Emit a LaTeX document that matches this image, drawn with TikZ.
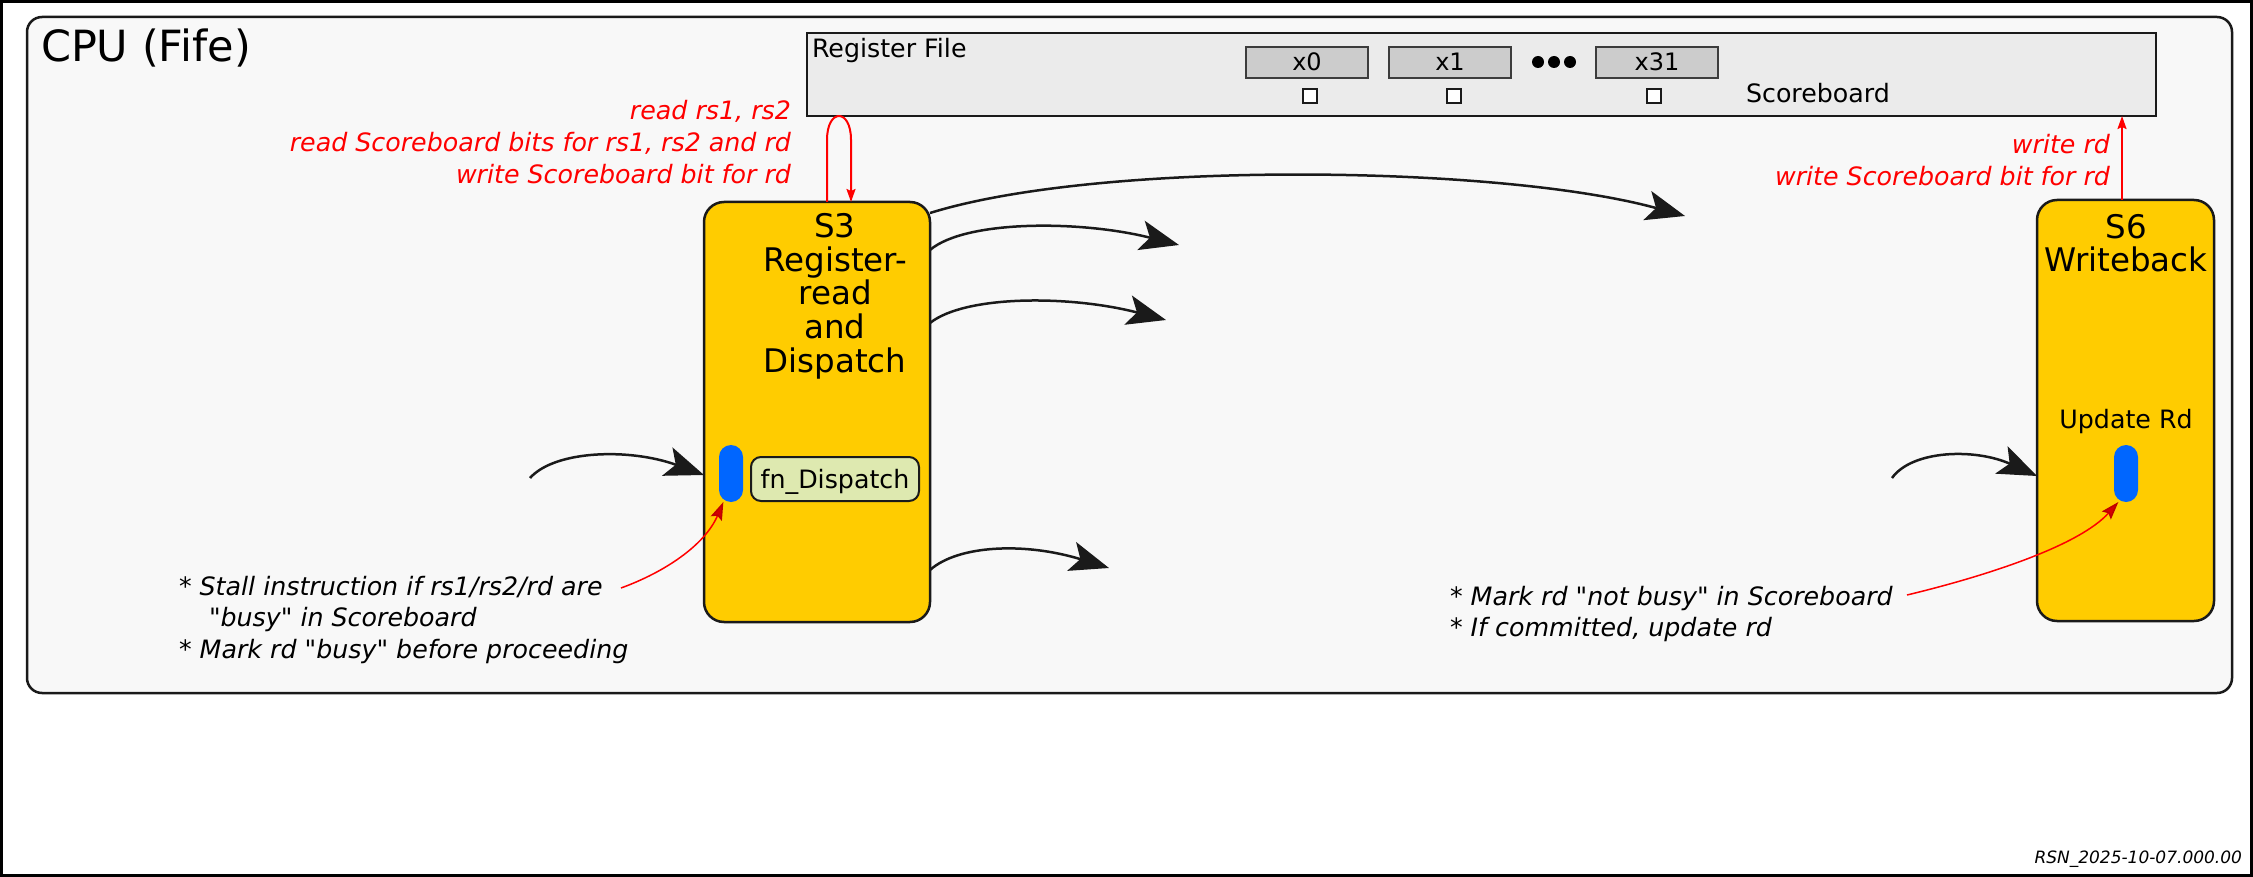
\documentclass[tikz,border=0pt]{standalone}
\usepackage{fontspec}
\setmainfont{DejaVu Sans}
\newfontfamily\djv{DejaVu Sans}
\usetikzlibrary{arrows.meta}
\definecolor{cpubg}{HTML}{F8F8F8}
\definecolor{rfbg}{HTML}{EBEBEB}
\definecolor{regbg}{HTML}{CCCCCC}
\definecolor{stagey}{HTML}{FFCC00}
\definecolor{pillb}{HTML}{0066FF}
\definecolor{fnbg}{HTML}{DEE9B0}
\definecolor{ink}{HTML}{1A1A1A}
\definecolor{redhead}{HTML}{D40000}
\definecolor{redline}{HTML}{FF0000}
\begin{document}
\begin{tikzpicture}[x=1pt,y=-1pt,
  every node/.style={inner sep=0pt,outer sep=0pt},
  txt/.style={font=\djv\fontsize{25.3}{30}\selectfont},
  regtxt/.style={font=\djv\fontsize{24}{28}\selectfont},
  ntxt/.style={font=\djv\itshape\fontsize{25.3}{30}\selectfont},
  rtxt/.style={font=\djv\itshape\fontsize{25.3}{30}\selectfont, text=redline},
  ttl/.style={font=\djv\fontsize{32.5}{36}\selectfont},
  cpubox/.style={draw=ink, line width=2.5pt, fill=cpubg, rounded corners=15pt},
  rfbox/.style={draw=ink, line width=2.5pt, fill=rfbg},
  regbox/.style={draw=ink!85, line width=2pt, fill=regbg, minimum width=122pt, minimum height=31pt,
    text height=17pt, text depth=0pt, regtxt},
  sbsq/.style={draw=ink, line width=2pt, fill=white, minimum width=14pt, minimum height=14pt},
  bdot/.style={circle, fill=black, minimum size=12pt},
  stagebox/.style={draw=ink, line width=2.5pt, fill=stagey, rounded corners=20pt},
  pill/.style={fill=pillb, rounded corners=12pt, minimum width=24pt, minimum height=57pt},
  fnbox/.style={draw=ink, line width=2pt, fill=fnbg, rounded corners=10pt, minimum width=168pt,
    minimum height=44pt, text height=18pt, text depth=0pt, txt},
  flow/.style={draw=ink, line width=2.5pt, -{Stealth[length=39pt,width=30pt,inset=9pt]}},
  rflow/.style={draw=redline, line width=2pt, -{Stealth[length=13pt,width=9pt,inset=2pt]}},
  note/.style={draw=redline, line width=1.5pt, -{Stealth[length=18pt,width=12pt,inset=3pt,fill=redhead,color=red!75!black]}}
]
\useasboundingbox (0,0) rectangle (2253,877);
\fill[white] (0,0) rectangle (2253,877);
\draw[line width=3pt, black] (1.5,1.5) rectangle (2251.5,875.5);

% CPU container
\node[cpubox, minimum width=2205pt, minimum height=676pt] (cpu) at (1129.5,355) {};
\node[font=\djv\fontsize{43}{48}\selectfont, anchor=base west] (cpulbl) at (41,62) {CPU (Fife)};

% Register file
\node[rfbox, minimum width=1349pt, minimum height=83pt] (rf) at (1481.5,74.5) {};
\node[txt, anchor=base west] (rflbl) at (812,58) {Register File};
\node[regbox] (x0) at (1307,62.5) {x0};
\node[regbox] (x1) at (1450,62.5) {x1};
\node[regbox] (x31) at (1657,62.5) {x31};
\node[bdot] (d1) at (1538,62) {};
\node[bdot] (d2) at (1554,62) {};
\node[bdot] (d3) at (1570,62) {};
\node[sbsq] (sb0) at (1310,96.5) {};
\node[sbsq] (sb1) at (1454,96.5) {};
\node[sbsq] (sb31) at (1654,96.5) {};
\node[txt, anchor=base west] (sblbl) at (1746,103) {Scoreboard};

% S3 stage
\node[stagebox, minimum width=226pt, minimum height=420pt] (s3) at (817,412) {};
\node[ttl, anchor=base] (s3a) at (835,238) {S3};
\node[ttl, anchor=base] (s3b) at (835,271.5) {Register-};
\node[ttl, anchor=base] (s3c) at (835,305) {read};
\node[ttl, anchor=base] (s3d) at (835,338.5) {and};
\node[ttl, anchor=base] (s3e) at (835,372) {Dispatch};
\node[pill] (p3) at (731,473.5) {};
\node[fnbox] (fn) at (835,479) {fn\_Dispatch};

% S6 stage
\node[stagebox, minimum width=177pt, minimum height=421pt] (s6) at (2125.5,410.5) {};
\node[ttl, anchor=base] (s6a) at (2126,239) {S6};
\node[ttl, anchor=base] (s6b) at (2126,272) {Writeback};
\node[txt, anchor=base] (upd) at (2126,428) {Update Rd};
\node[pill] (p6) at (2126,473.5) {};

% red labels
\node[rtxt, anchor=base east] (r1) at (791,120) {read rs1, rs2};
\node[rtxt, anchor=base east] (r2) at (791,152) {read Scoreboard bits for rs1, rs2 and rd};
\node[rtxt, anchor=base east] (r3) at (791,183.5) {write Scoreboard bit for rd};
\node[rtxt, anchor=base east] (w1) at (2110,154) {write rd};
\node[rtxt, anchor=base east] (w2) at (2110,186) {write Scoreboard bit for rd};

% notes
\node[ntxt, anchor=base west] (n1) at (179,595) {* Stall instruction if rs1/rs2/rd are};
\node[ntxt, anchor=base west] (n2) at (209,626) {"busy" in Scoreboard};
\node[ntxt, anchor=base west] (n3) at (179,658) {* Mark rd "busy" before proceeding};
\node[ntxt, anchor=base west] (m1) at (1450,605) {* Mark rd "not busy" in Scoreboard};
\node[ntxt, anchor=base west] (m2) at (1450,636) {* If committed, update rd};

\node[font=\djv\itshape\fontsize{17}{20}\selectfont, anchor=base east] (rsn) at (2242,863) {RSN\_2025-10-07.000.00};

% free ends
\coordinate (e1) at (1685,216);
\coordinate (e2) at (1179,245);
\coordinate (e3) at (1166,320);
\coordinate (e4) at (1109,568);
\coordinate (i3) at (530,478);
\coordinate (i6) at (1892,478);
\coordinate (a3) at (621,588);
\coordinate (a6) at (1907,595);

% black flow arrows
\draw[flow] (s3.east |- 0,213) .. controls (1100,160) and (1500,165) .. (e1);
\draw[flow] (s3.east |- 0,250) .. controls (965,220) and (1080,220) .. (e2);
\draw[flow] (s3.east |- 0,323) .. controls (965,295) and (1070,295) .. (e3);
\draw[flow] (s3.east |- 0,570) .. controls (958,545) and (1025,542) .. (e4);
\draw[flow] (i3) .. controls (555,450) and (630,448) .. (s3.west |- 0,475);
\draw[flow] (i6) .. controls (1912,450) and (1975,448) .. (s6.west |- 0,476);

% red register-file accesses
\draw[rflow] (s3.north -| 827,0) -- (827,140) .. controls (827,108) and (851,108) .. (851,140) -- (s3.north -| 851,0);
\draw[rflow] (s6.north -| 2122,0) -- (rf.south -| 2122,0);

% annotation pointers
\draw[note] (a3) .. controls (665,572) and (705,545) .. (p3.255);
\draw[note] (a6) .. controls (1990,575) and (2080,545) .. (p6.255);
\end{tikzpicture}
\end{document}
